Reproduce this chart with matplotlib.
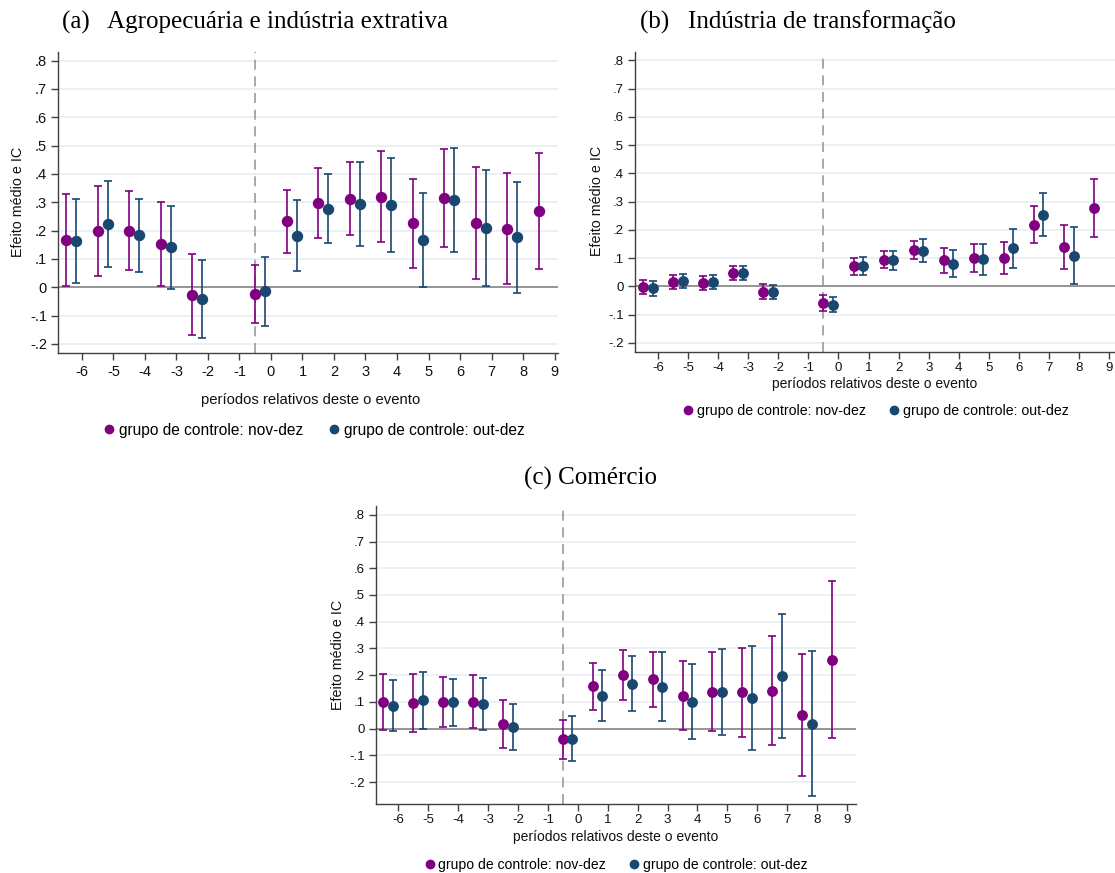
import matplotlib
matplotlib.use("Agg")
import matplotlib.pyplot as plt
from matplotlib.lines import Line2D
import numpy as np

plt.rcParams['font.family'] = ['Liberation Sans', 'DejaVu Sans']

W, H = 1115, 873

# Relative periods (period -1 is the omitted reference)
periods = [-6, -5, -4, -3, -2, 0, 1, 2, 3, 4, 5, 6, 7, 8, 9]
periods_out = periods[:-1]

xticks = list(range(-6, 10))
yticks = [-0.2, -0.1, 0, 0.1, 0.2, 0.3, 0.4, 0.5, 0.6, 0.7, 0.8]
ytick_labels = ['-.2', '-.1', '0', '.1', '.2', '.3', '.4', '.5', '.6', '.7', '.8']

# (a) Agropecuária e indústria extrativa
a_nov_coef = [0.167, 0.199, 0.199, 0.153, -0.026, -0.024, 0.232, 0.296, 0.312, 0.320, 0.225, 0.314, 0.226, 0.207, 0.269]
a_nov_lo = [0.003, 0.041, 0.061, 0.004, -0.168, -0.127, 0.120, 0.175, 0.184, 0.161, 0.069, 0.141, 0.029, 0.012, 0.065]
a_nov_hi = [0.329, 0.358, 0.338, 0.301, 0.119, 0.079, 0.344, 0.419, 0.441, 0.479, 0.381, 0.487, 0.424, 0.404, 0.475]
a_out_coef = [0.162, 0.224, 0.184, 0.141, -0.041, -0.013, 0.182, 0.276, 0.294, 0.289, 0.168, 0.307, 0.209, 0.176]
a_out_lo = [0.014, 0.073, 0.055, -0.006, -0.178, -0.136, 0.056, 0.155, 0.147, 0.125, 0.001, 0.125, 0.005, -0.019]
a_out_hi = [0.311, 0.375, 0.311, 0.288, 0.096, 0.106, 0.308, 0.398, 0.442, 0.456, 0.334, 0.491, 0.414, 0.372]

# (b) Indústria de transformação
b_nov_coef = [-0.002, 0.015, 0.012, 0.047, -0.019, -0.058, 0.073, 0.094, 0.129, 0.092, 0.100, 0.100, 0.218, 0.139, 0.276]
b_nov_lo = [-0.028, -0.009, -0.013, 0.022, -0.044, -0.087, 0.042, 0.064, 0.098, 0.047, 0.051, 0.044, 0.153, 0.062, 0.175]
b_nov_hi = [0.022, 0.040, 0.038, 0.072, 0.007, -0.031, 0.102, 0.127, 0.162, 0.136, 0.149, 0.159, 0.285, 0.218, 0.379]
b_out_coef = [-0.006, 0.019, 0.015, 0.047, -0.020, -0.065, 0.073, 0.093, 0.127, 0.079, 0.096, 0.135, 0.254, 0.108]
b_out_lo = [-0.032, -0.007, -0.009, 0.022, -0.046, -0.092, 0.042, 0.059, 0.085, 0.032, 0.041, 0.067, 0.178, 0.007]
b_out_hi = [0.019, 0.044, 0.041, 0.072, 0.005, -0.038, 0.106, 0.127, 0.169, 0.129, 0.152, 0.202, 0.331, 0.209]

# (c) Comércio
c_nov_coef = [0.101, 0.096, 0.100, 0.101, 0.018, -0.039, 0.158, 0.201, 0.185, 0.123, 0.138, 0.136, 0.142, 0.050, 0.257]
c_nov_lo = [-0.005, -0.011, 0.006, 0.003, -0.072, -0.112, 0.070, 0.107, 0.082, -0.005, -0.009, -0.031, -0.062, -0.178, -0.034]
c_nov_hi = [0.206, 0.204, 0.195, 0.201, 0.108, 0.034, 0.247, 0.296, 0.287, 0.254, 0.288, 0.303, 0.348, 0.281, 0.551]
c_out_coef = [0.085, 0.106, 0.099, 0.093, 0.006, -0.037, 0.123, 0.167, 0.157, 0.101, 0.136, 0.115, 0.197, 0.019]
c_out_lo = [-0.010, -0.002, 0.011, -0.005, -0.080, -0.122, 0.027, 0.067, 0.029, -0.040, -0.025, -0.081, -0.036, -0.251]
c_out_hi = [0.181, 0.213, 0.187, 0.191, 0.093, 0.047, 0.218, 0.271, 0.286, 0.243, 0.297, 0.310, 0.428, 0.291]

label_nov = 'grupo de controle: nov-dez'
label_out = 'grupo de controle: out-dez'
PURPLE = '#800080'
NAVY = '#1a476f'
AXCOL = '#404040'


def rect(l, t, r, b):
    return [l / W, 1 - b / H, (r - l) / W, (b - t) / H]


def draw_ci(ax, x, coef, lo, hi, color, ms, cap):
    x = np.asarray(x, dtype=float)
    coef = np.asarray(coef)
    err = np.vstack([coef - np.asarray(lo), np.asarray(hi) - coef])
    ax.errorbar(x, coef, yerr=err, fmt='none', ecolor=color, elinewidth=1.2,
                capsize=cap, capthick=1.2, zorder=3)
    ax.plot(x, coef, 'o', color=color, ms=ms, mec=color, zorder=4)


def panel(fig, box, xlim, ylim, data, ms, cap, tick_fs, xpad, xlab_pos, leg_pos, xlab_fs, leg_fs):
    ax = fig.add_axes(rect(*box))
    ax.set_xlim(*xlim)
    ax.set_ylim(*ylim)
    for yv in yticks:
        if yv != 0:
            ax.axhline(yv, color='#e6eef1', lw=1.2, zorder=0)
    ax.axhline(0, color='#8c8c8c', lw=1.3, zorder=1)
    ax.axvline(-0.5, color='#9a9a9a', lw=1.2, ls=(0, (6, 4)), zorder=1)
    nov_coef, nov_lo, nov_hi, out_coef, out_lo, out_hi = data
    draw_ci(ax, np.array(periods) - 0.5, nov_coef, nov_lo, nov_hi, PURPLE, ms, cap)
    draw_ci(ax, np.array(periods_out) - 0.18, out_coef, out_lo, out_hi, NAVY, ms, cap)
    ax.set_xticks(xticks)
    ax.set_xticklabels([str(v) for v in xticks], fontsize=tick_fs)
    ax.set_yticks(yticks)
    ax.set_yticklabels(ytick_labels, fontsize=tick_fs)
    for s in ('top', 'right'):
        ax.spines[s].set_visible(False)
    for s in ('left', 'bottom'):
        ax.spines[s].set_color(AXCOL)
        ax.spines[s].set_linewidth(1.0)
    ax.tick_params(length=5, width=1.0, color=AXCOL, labelcolor='#111111', pad=3)
    ax.tick_params(axis='x', pad=xpad)
    fig.text(xlab_pos[0] / W, 1 - xlab_pos[1] / H, 'períodos relativos deste o evento',
             ha='center', va='center', fontsize=xlab_fs, color='#111111')
    handles = [Line2D([], [], ls='none', marker='o', ms=6, color=PURPLE),
               Line2D([], [], ls='none', marker='o', ms=6, color=NAVY)]
    fig.legend(handles, [label_nov, label_out], loc='center', ncol=2,
               bbox_to_anchor=(leg_pos[0] / W, 1 - leg_pos[1] / H),
               frameon=False, fontsize=leg_fs, handletextpad=0.1,
               columnspacing=1.5, handlelength=1.0, borderaxespad=0)
    return ax


fig = plt.figure(figsize=(W / 100, H / 100), dpi=100)
fig.patch.set_facecolor('white')

YL = (-0.232, 0.83)
ax_a = panel(fig, (58, 52, 558, 353), (-6.76, 9.11), YL,
             (a_nov_coef, a_nov_lo, a_nov_hi, a_out_coef, a_out_lo, a_out_hi),
             ms=7.2, cap=3.0, tick_fs=10.5, xpad=4, xlab_pos=(311, 400), leg_pos=(313, 430),
             xlab_fs=10.7, leg_fs=11.2)
ax_b = panel(fig, (635, 52, 1115, 352), (-6.77, 9.2), YL,
             (b_nov_coef, b_nov_lo, b_nov_hi, b_out_coef, b_out_lo, b_out_hi),
             ms=6.8, cap=3.0, tick_fs=9.5, xpad=2, xlab_pos=(875, 384), leg_pos=(875, 411),
             xlab_fs=10, leg_fs=10.2)
ax_c = panel(fig, (376, 506, 856, 804), (-6.75, 9.3), (-0.282, 0.833),
             (c_nov_coef, c_nov_lo, c_nov_hi, c_out_coef, c_out_lo, c_out_hi),
             ms=6.8, cap=3.0, tick_fs=9.5, xpad=2, xlab_pos=(616, 837), leg_pos=(615, 865),
             xlab_fs=10, leg_fs=10.1)

# Y-axis titles
for x, y in ((18, 202), (597, 201), (338, 655)):
    fig.text(x / W, 1 - y / H, 'Efeito médio e IC', rotation=90, ha='center',
             va='center', fontsize=10.3, color='#111111')

# Panel titles
serif = ['Liberation Serif', 'DejaVu Serif']
fig.text(62 / W, 1 - 22 / H, '(a)   Agropecuária e indústria extrativa',
         ha='left', va='center', fontsize=18, family=serif)
fig.text(640 / W, 1 - 22 / H, '(b)   Indústria de transformação',
         ha='left', va='center', fontsize=18, family=serif)
fig.text(524 / W, 1 - 478 / H, '(c) Comércio',
         ha='left', va='center', fontsize=18, family=serif)

fig.savefig('out.png', dpi=100, facecolor='white')
